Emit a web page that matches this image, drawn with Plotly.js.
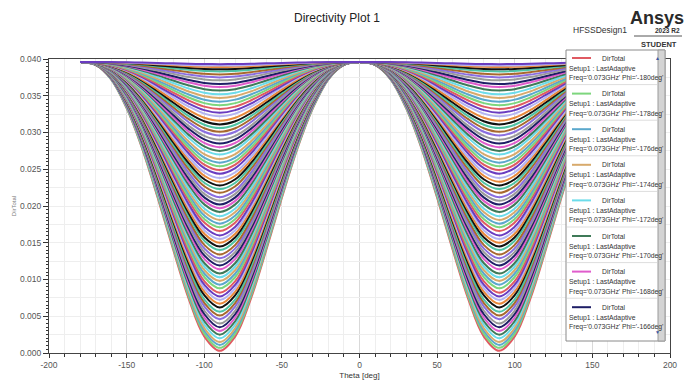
<!DOCTYPE html>
<html>
<head>
<meta charset="utf-8">
<script src="https://cdn.plot.ly/plotly-3.0.1.min.js"></script>
<style>
html,body{margin:0;padding:0;background:#fff;}
#chart{width:688px;height:385px;}
</style>
</head>
<body>
<div id="chart"></div>
<script>
// Theta samples (deg)
const theta = [-180,-170,-160,-150,-140,-130,-120,-110,-100,-90,-80,-70,-60,-50,-40,-30,-20,-10,0,
               10,20,30,40,50,60,70,80,90,100,110,120,130,140,150,160,170,180];
// Relative depth of each curve's dip at each theta (0 = at the peak, 1 = at the minimum)
const dipShape = [0,0.01,0.06,0.16,0.30,0.47,0.65,0.82,0.95,1.0,0.95,0.82,0.65,0.47,0.30,0.16,0.06,0.01,0,
                  0.01,0.06,0.16,0.30,0.47,0.65,0.82,0.95,1.0,0.95,0.82,0.65,0.47,0.30,0.16,0.06,0.01,0];
// Peak DirTotal value shared by all traces (theta = -180, 0, 180)
const peakValue = 0.0396;
// DirTotal at theta = +/-90 for each visible trace
const dipMinima = [0.0003,0.0007,0.0011,0.0015,0.0020,0.0025,0.0030,0.0035,0.0040,0.0046,
                   0.0051,0.0056,0.0062,0.0067,0.0072,0.0077,0.0082,0.0088,0.0093,0.0098,
                   0.0103,0.0108,0.0114,0.0119,0.0124,0.0129,0.0134,0.0140,0.0145,0.0150,
                   0.0155,0.0160,0.0166,0.0171,0.0176,0.0181,0.0186,0.0192,0.0197,0.0202,
                   0.0207,0.0212,0.0218,0.0223,0.0228,0.0233,0.0238,0.0244,0.0249,0.0254,
                   0.0259,0.0264,0.0270,0.0275,0.0280,0.0285,0.0290,0.0296,0.0301,0.0306,
                   0.0311,0.0316,0.0322,0.0327,0.0332,0.0337,0.0342,0.0347,0.0352,0.0357,
                   0.0362,0.0366,0.0371,0.0375,0.0379,0.0383,0.0386,0.0389,0.0391,0.0393];
// Legend phi labels
const legendPhi = ['-180','-178','-176','-174','-172','-170','-168','-166'];
// Axis tick labels
const xTickVals = [-200,-150,-100,-50,0,50,100,150,200];
const xTickText = ['-200','-150','-100','-50','0','50','100','150','200'];
const palette = ['#e05a62','#7dd67d','#5aa8cc','#d8aa6c','#6cdcea','#3f7a58','#e05ccc','#1e1e66',
                 '#9a9a9a','#8a6ee0','#a8682e','#4fc4a4','#111111','#e8883a','#b4b4f2','#6a3cc0'];

const traces = dipMinima.map((mn, i) => ({
  type: 'scatter', mode: 'lines',
  x: theta,
  y: dipShape.map(s => peakValue - (peakValue - mn) * s),
  line: {color: palette[i % palette.length], width: 2, shape: 'spline', smoothing: 1},
  name: 'DirTotal', showlegend: false, hoverinfo: 'skip'
}));
// helper trace for minor horizontal gridlines
traces.push({type:'scatter', x:[], y:[], yaxis:'y2', showlegend:false, hoverinfo:'skip'});

// pixel -> paper helpers (plot area: x 49..670, y 59..353)
const L = 49, R = 670, T = 59, B = 353;
const px = x => (x - L) / (R - L);
const py = y => (B - y) / (B - T);

const shapes = [];
const annotations = [];
const lf = {family: 'Liberation Sans Narrow, Liberation Sans, Arial', size: 6.8, color: '#333'};

// legend panel
shapes.push({type:'rect', xref:'paper', yref:'paper', x0:px(566), x1:px(665), y0:py(341), y1:py(50),
             fillcolor:'#ffffff', line:{color:'#8a8a8a', width:1}});
shapes.push({type:'rect', xref:'paper', yref:'paper', x0:px(658), x1:px(665), y0:py(341), y1:py(50),
             fillcolor:'#d4d4d4', line:{color:'#9a9a9a', width:1}});
annotations.push({xref:'paper', yref:'paper', x:px(661.5), y:py(53), text:'▲', showarrow:false,
                  font:{size:5, color:'#3a58a8'}});
annotations.push({xref:'paper', yref:'paper', x:px(661.5), y:py(337), text:'▼', showarrow:false,
                  font:{size:5, color:'#3a58a8'}});
legendPhi.forEach((phi, k) => {
  const y0 = 58 + 35.6 * k;
  if (k > 0) {
    shapes.push({type:'line', xref:'paper', yref:'paper', x0:px(567), x1:px(657), y0:py(y0 - 9), y1:py(y0 - 9),
                 line:{color:'#dddddd', width:1}});
  }
  shapes.push({type:'line', xref:'paper', yref:'paper', x0:px(572), x1:px(591), y0:py(y0), y1:py(y0),
               line:{color: palette[k], width: 2}});
  annotations.push({xref:'paper', yref:'paper', x:px(600), y:py(y0), xanchor:'left', yanchor:'middle',
                    text:'DirTotal', showarrow:false, font:lf});
  annotations.push({xref:'paper', yref:'paper', x:px(567), y:py(y0 + 10.5), xanchor:'left', yanchor:'middle',
                    text:'Setup1 : LastAdaptive', showarrow:false, font:lf});
  annotations.push({xref:'paper', yref:'paper', x:px(567), y:py(y0 + 20), xanchor:'left', yanchor:'middle',
                    text:"Freq='0.073GHz' Phi='" + phi + "deg'", showarrow:false, font:lf});
});

// header texts
annotations.push({xref:'paper', yref:'paper', x:px(571), y:py(30), xanchor:'left', yanchor:'middle',
                  text:'HFSSDesign1', showarrow:false,
                  font:{family:'Liberation Sans, Arial', size:8.5, color:'#333'}});
annotations.push({xref:'paper', yref:'paper', x:px(657), y:py(18), xanchor:'center', yanchor:'middle',
                  text:'<b>Ansys</b>', showarrow:false,
                  font:{family:'Liberation Sans, Arial', size:18, color:'#2a2a2a'}});
annotations.push({xref:'paper', yref:'paper', x:px(667), y:py(31), xanchor:'center', yanchor:'middle',
                  text:'<b>2023 R2</b>', showarrow:false,
                  font:{family:'Liberation Sans Narrow, Liberation Sans, Arial', size:6.5, color:'#333'}});
shapes.push({type:'line', xref:'paper', yref:'paper', x0:px(634), x1:px(682), y0:py(36), y1:py(36),
             line:{color:'#555', width:1}});
annotations.push({xref:'paper', yref:'paper', x:px(659), y:py(44), xanchor:'center', yanchor:'middle',
                  text:'<b>STUDENT</b>', showarrow:false,
                  font:{family:'Liberation Sans Narrow, Liberation Sans, Arial', size:7.5, color:'#333'}});

const tickFont = {family:'Liberation Sans, Arial', size:8.5, color:'#555'};

const layout = {
  width: 688, height: 385,
  margin: {l: L, r: 688 - R, t: T, b: 385 - B},
  paper_bgcolor: '#ffffff', plot_bgcolor: '#ffffff',
  showlegend: false,
  title: {text: 'Directivity Plot 1', x: 337/688, xref: 'container', xanchor: 'center',
          y: 1 - 18/385, yref: 'container', yanchor: 'middle',
          font: {family: 'Liberation Sans, Arial', size: 12, color: '#222'}},
  xaxis: {
    range: [-200, 200], tickmode: 'array', tickvals: xTickVals, ticktext: xTickText,
    ticks: 'outside', ticklen: 4, tickcolor: '#333', tickfont: tickFont,
    showline: true, linecolor: '#444', linewidth: 1, mirror: true,
    showgrid: true, gridcolor: '#d9d9d9', zeroline: false,
    minor: {tickmode: 'linear', tick0: -200, dtick: 10, ticks: 'outside', ticklen: 2.5, tickcolor: '#333',
            showgrid: true, gridcolor: '#eeeeee'},
    title: {text: 'Theta [deg]', standoff: 3, font: {family:'Liberation Sans, Arial', size: 8, color: '#333'}}
  },
  yaxis: {
    range: [0, 0.04], dtick: 0.005, tick0: 0, tickformat: '.3f',
    ticks: 'outside', ticklen: 5, tickcolor: '#333', tickfont: tickFont,
    showline: true, linecolor: '#444', linewidth: 1, mirror: true,
    showgrid: true, gridcolor: '#d9d9d9', zeroline: false,
    minor: {dtick: 0.0005, ticks: 'outside', ticklen: 2.5, tickcolor: '#333', showgrid: false},
    title: {text: 'DirTotal', standoff: 2, font: {family:'Liberation Sans, Arial', size: 6, color: '#777'}}
  },
  yaxis2: {
    overlaying: 'y', range: [0, 0.04], dtick: 0.0025, showgrid: true, gridcolor: '#eeeeee',
    showticklabels: false, ticks: '', zeroline: false, showline: false
  },
  shapes: shapes,
  annotations: annotations
};

Plotly.newPlot('chart', traces, layout, {displayModeBar: false, staticPlot: true});
</script>
</body>
</html>
